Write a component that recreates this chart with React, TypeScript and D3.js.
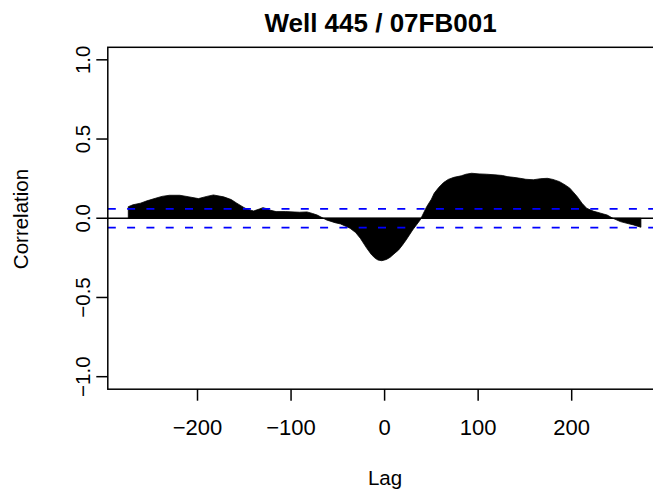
import React from "react";
import * as d3 from "d3";

const title = "Well 445 / 07FB001";
const xLabel = "Lag";
const yLabel = "Correlation";
const xTicks = [-200, -100, 0, 100, 200];
const yTicks = [-1.0, -0.5, 0.0, 0.5, 1.0];
const ciBound = 0.059;

const lags = [
  -274, -269, -261, -254, -245, -238, -230, -219, -210, -199, -190, -183, -172, -164, -158, -151,
  -147, -140, -134, -130, -126, -123, -116, -106, -91, -83, -77, -72, -62, -53, -47, -37, -31, -26,
  -19, -14, -10, -7, -3, 2, 6, 10, 15, 19, 23, 30, 38, 45, 50, 53, 58, 63, 68, 74, 82, 87, 93, 101,
  109, 118, 126, 131, 138, 145, 151, 159, 167, 174, 180, 187, 193, 198, 206, 211, 216, 223, 231, 238,
  244, 252, 259, 266, 274,
];
const correlations = [
  0.073, 0.085, 0.095, 0.11, 0.126, 0.138, 0.145, 0.145, 0.136, 0.124, 0.138, 0.147, 0.135, 0.118,
  0.095, 0.07, 0.057, 0.046, 0.058, 0.067, 0.06, 0.052, 0.042, 0.042, 0.038, 0.04, 0.03, 0.02, -0.011,
  -0.028, -0.036, -0.063, -0.09, -0.126, -0.19, -0.23, -0.253, -0.264, -0.268, -0.26, -0.246, -0.225,
  -0.2, -0.17, -0.137, -0.074, -0.011, 0.073, 0.12, 0.158, 0.195, 0.225, 0.245, 0.258, 0.268, 0.278,
  0.284, 0.28, 0.278, 0.274, 0.27, 0.263, 0.258, 0.252, 0.246, 0.243, 0.25, 0.252, 0.245, 0.231, 0.21,
  0.19, 0.136, 0.095, 0.063, 0.045, 0.032, 0.02, 0.0, -0.021, -0.032, -0.042, -0.057,
];

const W = 653;
const H = 491;
const left = 107.8;
const right = 661.4;
const top = 47.3;
const bottom = 389.2;

export default function App() {
  const x = d3.scaleLinear().domain([-295.9, 295.9]).range([left, right]);
  const y = d3.scaleLinear().domain([-1.079, 1.079]).range([bottom, top]);
  const data = lags.map((l, i) => ({ l, v: correlations[i] }));
  const area = d3
    .area<{ l: number; v: number }>()
    .x((d) => x(d.l))
    .y0(y(0))
    .y1((d) => y(d.v));
  const font = "'Liberation Sans', Arial, Helvetica, sans-serif";
  const fmt = (t: number, digits: number) =>
    t < 0 ? "\u2212" + Math.abs(t).toFixed(digits) : t.toFixed(digits);
  return (
    <svg
      width={W}
      height={H}
      style={{ position: "absolute", left: 0, top: 0, display: "block", background: "#fff" }}
      fontFamily={font}
    >
      <defs>
        <clipPath id="plotclip">
          <rect x={left} y={top} width={right - left} height={bottom - top} />
        </clipPath>
      </defs>
      <g clipPath="url(#plotclip)">
        <path d={area(data) || ""} fill="#000" stroke="#000" strokeWidth={0.8} />
        <line x1={left} x2={right} y1={y(0)} y2={y(0)} stroke="#000" strokeWidth={1.5} />
        {[ciBound, -ciBound].map((c) => (
          <line
            key={c}
            x1={left}
            x2={right}
            y1={y(c)}
            y2={y(c)}
            stroke="#0000ff"
            strokeWidth={1.6}
            strokeDasharray="8 11.3"
          />
        ))}
      </g>
      <rect x={left} y={top} width={right - left} height={bottom - top} fill="none" stroke="#000" strokeWidth={1.5} />
      {xTicks.map((t) => (
        <g key={t}>
          <line x1={x(t)} x2={x(t)} y1={bottom} y2={bottom + 11.5} stroke="#000" strokeWidth={1.5} />
          <text x={x(t)} y={435} textAnchor="middle" fontSize={22} fill="#000">
            {fmt(t, 0)}
          </text>
        </g>
      ))}
      {yTicks.map((t) => (
        <g key={t}>
          <line x1={left - 11.5} x2={left} y1={y(t)} y2={y(t)} stroke="#000" strokeWidth={1.5} />
          <text
            transform={`translate(90,${y(t)}) rotate(-90)`}
            textAnchor="middle"
            fontSize={20.5}
            fill="#000"
          >
            {fmt(t, 1)}
          </text>
        </g>
      ))}
      <text x={380.5} y={32.3} textAnchor="middle" fontSize={26} fontWeight="bold" fill="#000">
        {title}
      </text>
      <text x={385} y={485} textAnchor="middle" fontSize={20.5} fill="#000">
        {xLabel}
      </text>
      <text transform={`translate(28,219) rotate(-90)`} textAnchor="middle" fontSize={20.5} fill="#000">
        {yLabel}
      </text>
    </svg>
  );
}
